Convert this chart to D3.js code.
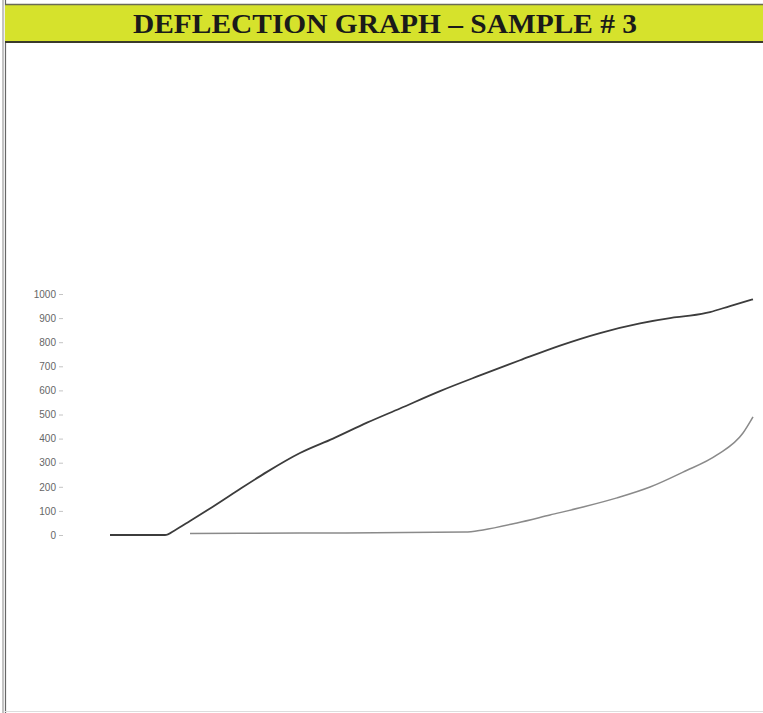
<!DOCTYPE html>
<html>
<head>
<meta charset="utf-8">
<script src="https://cdn.jsdelivr.net/npm/d3@7"></script>
<style>
  html, body { margin: 0; padding: 0; background: #fff; }
  svg { display: block; }
</style>
</head>
<body>
<svg id="chart" width="763" height="713"></svg>
<script>
// ---- data ----
const title = "DEFLECTION GRAPH \u2013 SAMPLE # 3";
const yTicks = [0, 100, 200, 300, 400, 500, 600, 700, 800, 900, 1000];
const yTickLabels = ["0", "100", "200", "300", "400", "500", "600", "700", "800", "900", "1000"];

// series 1 (dark curve)
const s1x = [0, 55, 65, 80, 100, 123, 157, 190, 223, 257, 290, 330, 370, 410, 450, 490, 530, 560, 580, 600, 620, 643];
const s1y = [0, 0, 20, 58, 110, 172, 262, 340, 400, 466, 525, 597, 662, 725, 786, 838, 878, 900, 910, 925, 950, 978];

// series 2 (light curve)
const s2x = [80, 190, 355, 373, 407, 440, 473, 507, 540, 573, 607, 633, 643];
const s2y = [6, 8, 12, 21, 50, 83, 116, 154, 199, 261, 332, 423, 490];

// ---- drawing ----
const svg = d3.select("#chart");
const W = 763, H = 713;

// page frame
svg.append("rect").attr("x", 0).attr("y", 0).attr("width", W).attr("height", H).attr("fill", "#fff");
svg.append("line").attr("x1", 3).attr("x2", 3).attr("y1", 0).attr("y2", H).attr("stroke", "#888").attr("stroke-width", 1);
svg.append("line").attr("x1", 5.5).attr("x2", 5.5).attr("y1", 0).attr("y2", H).attr("stroke", "#666").attr("stroke-width", 1.2);
svg.append("line").attr("x1", 5).attr("x2", W).attr("y1", 711.5).attr("y2", 711.5).attr("stroke", "#ddd").attr("stroke-width", 1);

// title bar
svg.append("rect").attr("x", 5).attr("y", 4).attr("width", W - 5).attr("height", 38)
  .attr("fill", "#d6e22c");
svg.append("line").attr("x1", 5).attr("x2", W).attr("y1", 4.5).attr("y2", 4.5).attr("stroke", "#6a6a55").attr("stroke-width", 1.5);
svg.append("line").attr("x1", 5).attr("x2", W).attr("y1", 42).attr("y2", 42).attr("stroke", "#3a3a2a").attr("stroke-width", 2);
svg.append("text")
  .attr("x", 385).attr("y", 32.5)
  .attr("text-anchor", "middle")
  .attr("font-family", "'Liberation Serif', 'Times New Roman', serif")
  .attr("font-weight", "bold")
  .attr("font-size", 27)
  .attr("fill", "#1a1a1a")
  .attr("textLength", 504)
  .attr("lengthAdjust", "spacingAndGlyphs")
  .text(title);

// scales
const x = d3.scaleLinear().domain([0, 643]).range([110, 753]);
const y = d3.scaleLinear().domain([0, 1000]).range([535, 294]);

// y axis labels
const axis = d3.axisLeft(y).tickValues(yTicks).tickFormat((d, i) => yTickLabels[i]).tickSize(4).tickPadding(3);
const gAxis = svg.append("g").attr("transform", "translate(63,0)").call(axis);
gAxis.select(".domain").remove();
gAxis.selectAll(".tick line").attr("stroke", "#c4c4c4");
gAxis.selectAll(".tick text")
  .attr("font-family", "'Liberation Sans', Arial, sans-serif")
  .attr("font-size", 10)
  .attr("fill", "#666");

// lines
const line = d3.line().x(d => x(d[0])).y(d => y(d[1])).curve(d3.curveMonotoneX);
svg.append("path")
  .datum(s1x.map((v, i) => [v, s1y[i]]))
  .attr("d", line)
  .attr("fill", "none")
  .attr("stroke", "#3c3c3c")
  .attr("stroke-width", 1.8);
svg.append("path")
  .datum(s2x.map((v, i) => [v, s2y[i]]))
  .attr("d", line)
  .attr("fill", "none")
  .attr("stroke", "#8a8a8a")
  .attr("stroke-width", 1.5);
</script>
</body>
</html>
